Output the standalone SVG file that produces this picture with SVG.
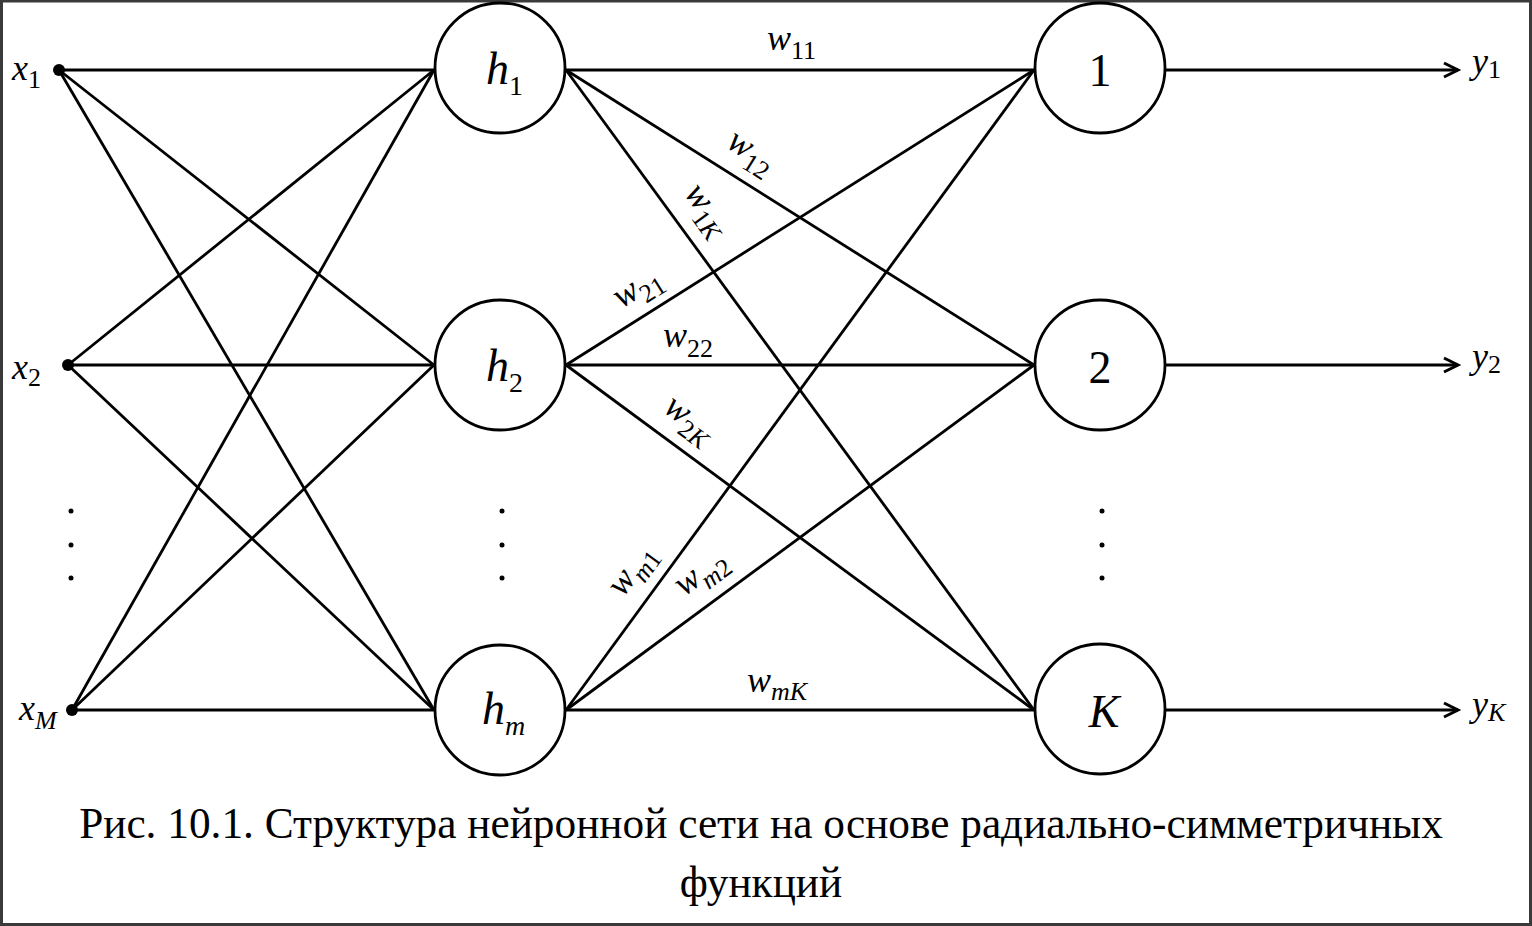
<svg xmlns="http://www.w3.org/2000/svg" width="1532" height="926" viewBox="0 0 1532 926">
<defs>
<marker id="arr" markerWidth="20" markerHeight="20" viewBox="0 0 20 20" refX="16" refY="10" markerUnits="userSpaceOnUse" orient="auto">
<path d="M2,3 L16,10 L2,17" fill="none" stroke="#000" stroke-width="3"/>
</marker>
<style>
.ln{stroke:#000;stroke-width:2.8;fill:none}
.nd{fill:#fff;stroke:#000;stroke-width:2.8}
.t{font-family:"Liberation Serif","Times New Roman",serif;fill:#000}
.it{font-style:italic}
.up{font-style:normal}
.w{font-size:36px}
.s{font-size:26px}
.nl{font-size:46px}
.ns{font-size:28px}
.cap{font-size:43.3px}
.dot{fill:#000}
</style>
</defs>
<rect x="1.5" y="1" width="1529" height="923.5" fill="#fff" stroke="#3a3a3a" stroke-width="3"/>

<g id="connectors">
<line class="ln" x1="59" y1="70" x2="434" y2="70"/>
<line class="ln" x1="59" y1="70" x2="434" y2="365"/>
<line class="ln" x1="59" y1="70" x2="434" y2="710"/>
<line class="ln" x1="68" y1="365" x2="434" y2="70"/>
<line class="ln" x1="68" y1="365" x2="434" y2="365"/>
<line class="ln" x1="68" y1="365" x2="434" y2="710"/>
<line class="ln" x1="72" y1="710" x2="434" y2="70"/>
<line class="ln" x1="72" y1="710" x2="434" y2="365"/>
<line class="ln" x1="72" y1="710" x2="434" y2="710"/>
<line class="ln" x1="566" y1="70" x2="1034" y2="70"/>
<line class="ln" x1="566" y1="70" x2="1034" y2="365"/>
<line class="ln" x1="566" y1="70" x2="1034" y2="710"/>
<line class="ln" x1="566" y1="365" x2="1034" y2="70"/>
<line class="ln" x1="566" y1="365" x2="1034" y2="365"/>
<line class="ln" x1="566" y1="365" x2="1034" y2="710"/>
<line class="ln" x1="566" y1="710" x2="1034" y2="70"/>
<line class="ln" x1="566" y1="710" x2="1034" y2="365"/>
<line class="ln" x1="566" y1="710" x2="1034" y2="710"/>
<line class="ln" x1="1166" y1="70" x2="1458" y2="70" marker-end="url(#arr)"/>
<line class="ln" x1="1166" y1="365" x2="1458" y2="365" marker-end="url(#arr)"/>
<line class="ln" x1="1166" y1="710" x2="1458" y2="710" marker-end="url(#arr)"/>
<text class="t w it" x="767" y="50">w<tspan class="s up" dy="9">11</tspan></text>
<g transform="translate(735.5,176.8) rotate(32.2)"><text class="t w it" x="0" y="-20" text-anchor="middle">w<tspan class="s up" dy="9">12</tspan></text></g>
<g transform="translate(681.8,228.3) rotate(53.8)"><text class="t w it" x="0" y="-22" text-anchor="middle">w<tspan class="s up" dy="9">1</tspan><tspan class="s it">K</tspan></text></g>
<g transform="translate(651.9,310.9) rotate(-32.2)"><text class="t w it" x="0" y="-18" text-anchor="middle">w<tspan class="s up" dy="9">21</tspan></text></g>
<text class="t w it" x="663" y="347">w<tspan class="s up" dy="10">22</tspan></text>
<g transform="translate(671.9,443) rotate(36.4)"><text class="t w it" x="0" y="-20" text-anchor="middle">w<tspan class="s up" dy="9">2</tspan><tspan class="s it">K</tspan></text></g>
<g transform="translate(655.6,587.4) rotate(-53.8)"><text class="t w it" x="0" y="-20" text-anchor="middle">w<tspan class="s it" dy="9">m</tspan><tspan class="s up">1</tspan></text></g>
<g transform="translate(718.9,597.3) rotate(-36.4)"><text class="t w it" x="0" y="-21" text-anchor="middle">w<tspan class="s it" dy="9">m</tspan><tspan class="s up">2</tspan></text></g>
<text class="t w it" x="747" y="692">w<tspan class="s it" dy="8">mK</tspan></text>
</g>

<g id="inputs">
<g id="x1"><circle class="dot" cx="59" cy="70" r="6"/><text class="t w it" x="12" y="80">x<tspan class="s up" dy="8">1</tspan></text></g>
<g id="x2"><circle class="dot" cx="68" cy="365" r="6"/><text class="t w it" x="12" y="379">x<tspan class="s up" dy="7">2</tspan></text></g>
<g id="xM"><circle class="dot" cx="72" cy="710" r="6"/><text class="t w it" x="19" y="720">x<tspan class="s it" dy="9">M</tspan></text></g>
<g id="xdots"><circle class="dot" cx="71" cy="511" r="2.5"/><circle class="dot" cx="71" cy="545" r="2.5"/><circle class="dot" cx="71" cy="578" r="2.5"/></g>
</g>

<g id="hidden">
<g id="h1"><circle class="nd" cx="500" cy="68" r="65"/><text class="t nl it" x="486" y="84">h<tspan class="ns up" dy="11">1</tspan></text></g>
<g id="h2"><circle class="nd" cx="500" cy="365" r="65"/><text class="t nl it" x="486" y="381">h<tspan class="ns up" dy="11">2</tspan></text></g>
<g id="hdots"><circle class="dot" cx="502" cy="511" r="2.5"/><circle class="dot" cx="502" cy="545" r="2.5"/><circle class="dot" cx="502" cy="578" r="2.5"/></g>
<g id="hm"><circle class="nd" cx="500" cy="710" r="65"/><text class="t nl it" x="482" y="724">h<tspan class="ns it" dy="11">m</tspan></text></g>
</g>

<g id="outputs">
<g id="o1"><circle class="nd" cx="1100" cy="68" r="65"/><text class="t nl up" x="1100" y="86" text-anchor="middle">1</text></g>
<g id="o2"><circle class="nd" cx="1100" cy="365" r="65"/><text class="t nl up" x="1100" y="383" text-anchor="middle">2</text></g>
<g id="odots"><circle class="dot" cx="1102" cy="511" r="2.5"/><circle class="dot" cx="1102" cy="545" r="2.5"/><circle class="dot" cx="1102" cy="578" r="2.5"/></g>
<g id="oK"><circle class="nd" cx="1100" cy="709" r="65"/><text class="t nl it" x="1104" y="727" text-anchor="middle">K</text></g>
</g>

<g id="ylabels">
<text class="t w it" x="1472" y="73">y<tspan class="s up" dy="5">1</tspan></text>
<text class="t w it" x="1472" y="368">y<tspan class="s up" dy="5">2</tspan></text>
<text class="t w it" x="1472" y="716">y<tspan class="s it" dy="5">K</tspan></text>
</g>

<g id="caption">
<text class="t cap" x="761" y="838" text-anchor="middle">Рис. 10.1. Структура нейронной сети на основе радиально-симметричных</text>
<text class="t cap" x="761" y="897" text-anchor="middle">функций</text>
</g>
</svg>
